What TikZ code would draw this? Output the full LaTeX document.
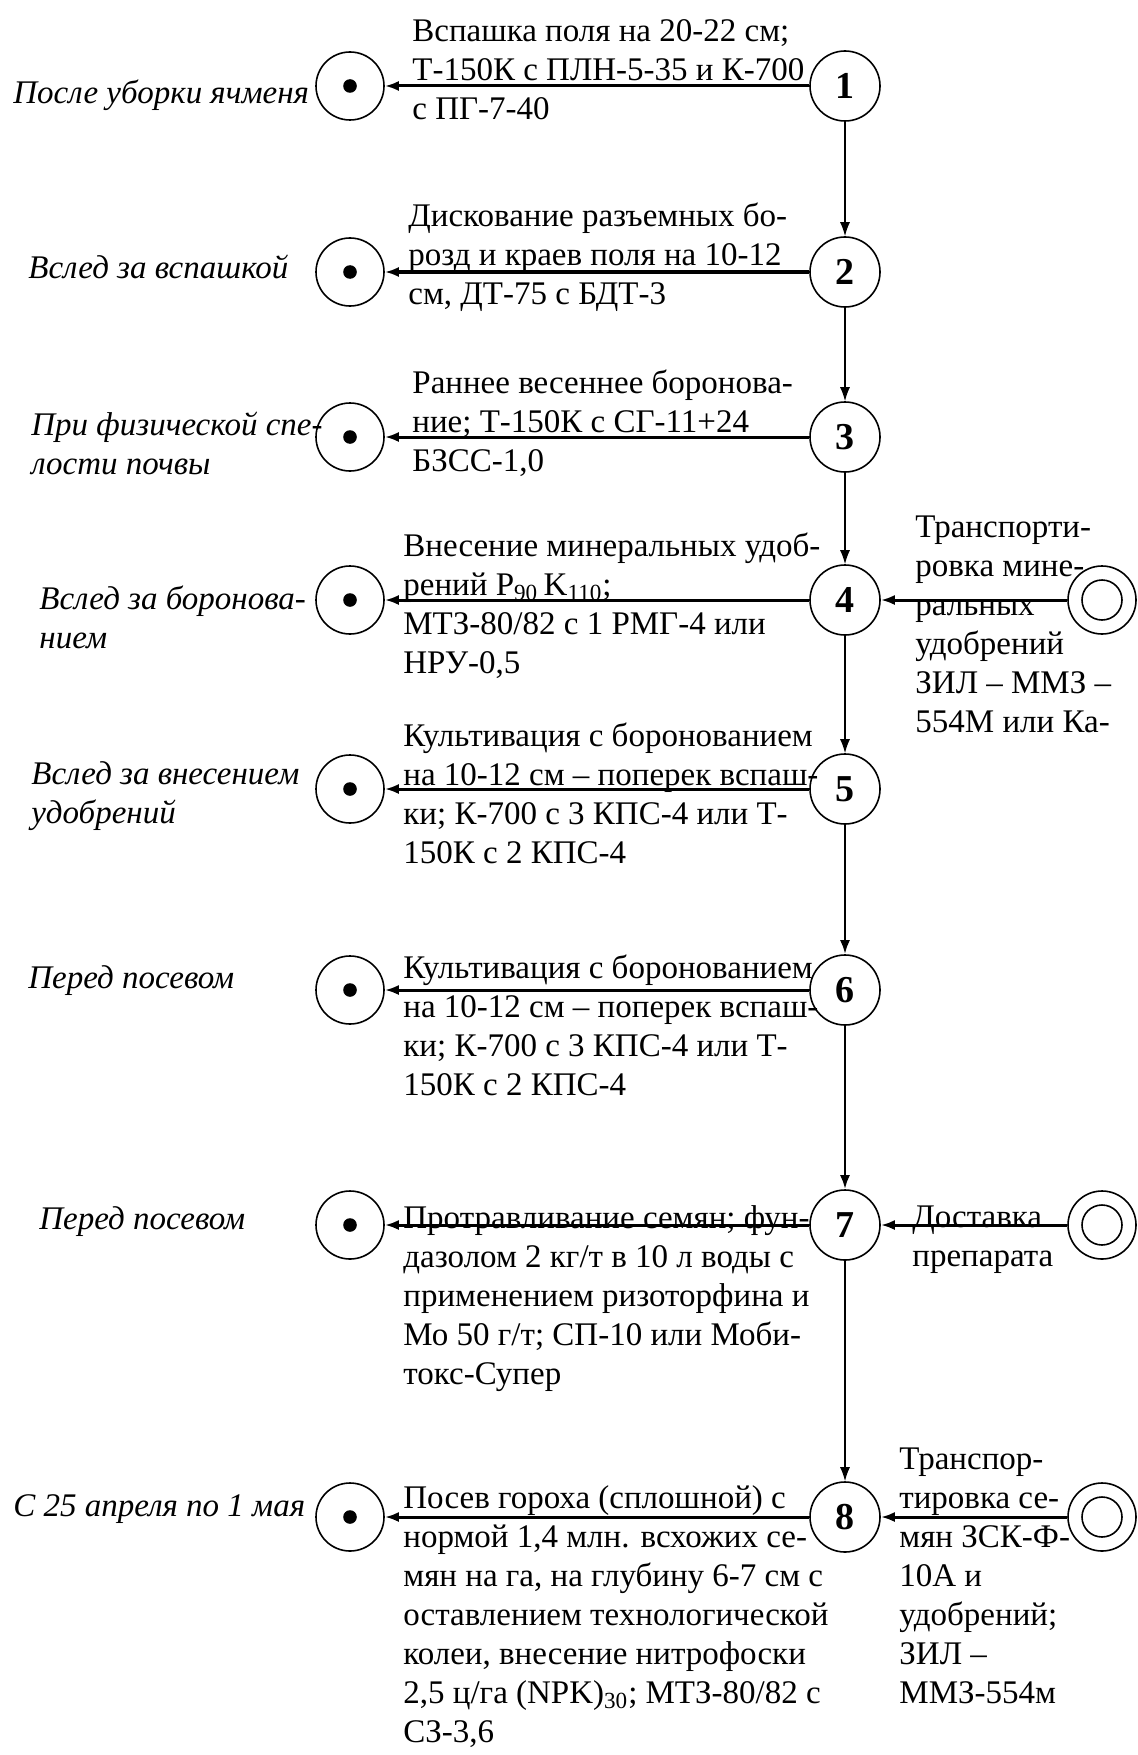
\documentclass[tikz,border=0pt]{standalone}
\usepackage{fontspec}
\setmainfont{Liberation Serif}
\usetikzlibrary{arrows.meta}

\begin{document}
\begin{tikzpicture}[x=0.5pt,y=-0.5pt,
        every node/.style={font=\fontsize{16.5}{19.5}\selectfont},
        stage/.style={circle,draw,line width=0.8pt,minimum size=35pt,inner sep=0pt,
            font=\fontsize{19}{21}\selectfont\bfseries},
        term/.style={circle,draw,line width=0.8pt,minimum size=34pt,inner sep=0pt,
            path picture={\fill (path picture bounding box.center) circle (3.4pt);}},
        src/.style={circle,draw,line width=0.8pt,minimum size=34pt,inner sep=0pt,
            path picture={\draw[line width=0.8pt] (path picture bounding box.center) circle (10pt);}},
        txt/.style={anchor=north west,inner sep=0pt,align=left},
        lbl/.style={txt,font=\fontsize{16.5}{19.5}\selectfont\itshape},
        harr/.style={-{Latex[length=7pt,width=5pt]},line width=1.5pt},
        varr/.style={-{Latex[length=7pt,width=5pt]},line width=0.7pt},
        varrb/.style={varr,line width=1.3pt}]
    \useasboundingbox (0,0) rectangle (1137,1755);

    \node[stage] (n1) at (845,86) {1};
    \node[stage] (n2) at (845,272) {2};
    \node[stage] (n3) at (845,437) {3};
    \node[stage] (n4) at (845,600) {4};
    \node[stage] (n5) at (845,789) {5};
    \node[stage] (n6) at (845,990) {6};
    \node[stage] (n7) at (845,1225) {7};
    \node[stage] (n8) at (845,1517) {8};

    \node[term] (t1) at (350,86) {};
    \node[term] (t2) at (350,272) {};
    \node[term] (t3) at (350,437) {};
    \node[term] (t4) at (350,600) {};
    \node[term] (t5) at (350,789) {};
    \node[term] (t6) at (350,990) {};
    \node[term] (t7) at (350,1225) {};
    \node[term] (t8) at (350,1517) {};

    \node[src] (s4) at (1102,600) {};
    \node[src] (s7) at (1102,1225) {};
    \node[src] (s8) at (1102,1517) {};

    \draw[varr] (n1) -- (n2);
    \draw[varr] (n2) -- (n3);
    \draw[varr] (n3) -- (n4);
    \draw[varr] (n4) -- (n5);
    \draw[varrb] (n5) -- (n6);
    \draw[varrb] (n6) -- (n7);
    \draw[varr] (n7) -- (n8);

    \draw[harr] (n1) -- (t1);
    \draw[harr] (n2) -- (t2);
    \draw[harr] (n3) -- (t3);
    \draw[harr] (n4) -- (t4);
    \draw[harr] (n5) -- (t5);
    \draw[harr] (n6) -- (t6);
    \draw[harr] (n7) -- (t7);
    \draw[harr] (n8) -- (t8);
    \draw[harr] (s4) -- (n4);
    \draw[harr] (s7) -- (n7);
    \draw[harr] (s8) -- (n8);

    \node[txt] (w1) at (412,19) {Вспашка поля на 20-22 см;\\Т-150К с ПЛН-5-35 и К-700\\с ПГ-7-40};
    \node[txt] (w2) at (408,202) {Дискование разъемных бо-\\розд и краев поля на 10-12\\см, ДТ-75 с БДТ-3};
    \node[txt] (w3) at (412,369) {Раннее весеннее боронова-\\ние; Т-150К с СГ-11+24\\БЗСС-1,0};
    \node[txt] (w4) at (403,532) {Внесение минеральных удоб-\\рений P\textsubscript{90}\,K\textsubscript{110};\\МТЗ-80/82 с 1 РМГ-4 или\\НРУ-0,5};
    \node[txt] (w5) at (403,722) {Культивация с боронованием\\на 10-12 см – поперек вспаш-\\ки; К-700 с 3 КПС-4 или Т-\\150К с 2 КПС-4};
    \node[txt] (w6) at (403,954) {Культивация с боронованием\\на 10-12 см – поперек вспаш-\\ки; К-700 с 3 КПС-4 или Т-\\150К с 2 КПС-4};
    \node[txt] (w7) at (403,1205) {Протравливание семян; фун-\\дазолом 2 кг/т в 10 л воды с\\применением ризоторфина и\\Мо 50 г/т; СП-10 или Моби-\\токс-Супер};
    \node[txt] (w8) at (403,1485) {Посев гороха (сплошной) с\\нормой 1,4 млн. всхожих се-\\мян на га, на глубину 6-7 см с\\оставлением технологической\\колеи, внесение нитрофоски\\2,5 ц/га (NPK)\textsubscript{30}; МТЗ-80/82 с\\СЗ-3,6};

    \node[txt] (r4) at (915,515) {Транспорти-\\ровка мине-\\ральных\\удобрений\\ЗИЛ – ММЗ –\\554М или Ка-};
    \node[txt] (r7) at (912,1205) {Доставка\\препарата};
    \node[txt] (r8) at (899,1447) {Транспор-\\тировка се-\\мян ЗСК-Ф-\\10А и\\удобрений;\\ЗИЛ –\\ММЗ-554м};

    \node[lbl] (l1) at (13,79) {После уборки ячменя};
    \node[lbl] (l2) at (28,255) {Вслед за вспашкой};
    \node[lbl] (l3) at (31,412) {При физической спе-\\лости почвы};
    \node[lbl] (l4) at (39,585) {Вслед за боронова-\\нием};
    \node[lbl] (l5) at (31,761) {Вслед за внесением\\удобрений};
    \node[lbl] (l6) at (28,965) {Перед посевом};
    \node[lbl] (l7) at (39,1206) {Перед посевом};
    \node[lbl] (l8) at (13,1494) {С 25 апреля по 1 мая};
\end{tikzpicture}
\end{document}
